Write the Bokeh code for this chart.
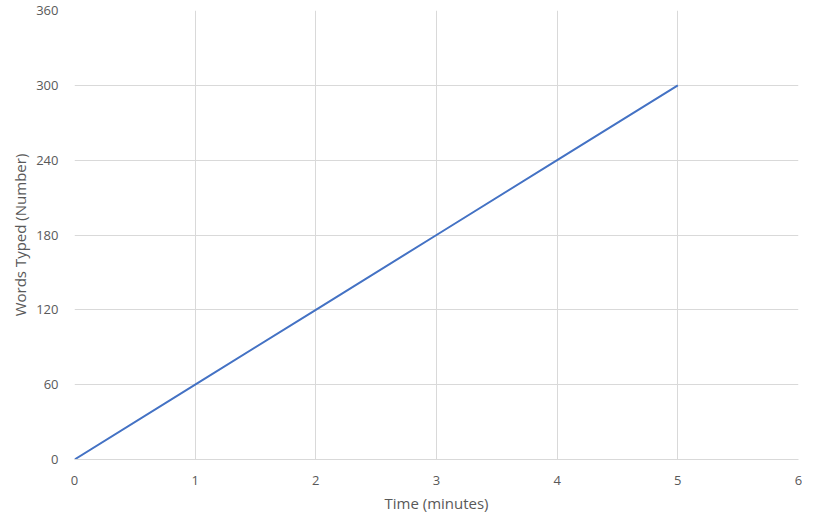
from bokeh.plotting import figure
from bokeh.models import Range1d, FixedTicker
from bokeh.embed import file_html
from bokeh.resources import INLINE

time_minutes = [0, 1, 2, 3, 4, 5]
words_typed = [0, 60, 120, 180, 240, 300]
x_ticks = [0, 1, 2, 3, 4, 5, 6]
y_ticks = [0, 60, 120, 180, 240, 300, 360]

p = figure(width=802, height=516, output_backend="svg", toolbar_location=None,
           x_range=Range1d(0, 6), y_range=Range1d(0, 360),
           min_border_left=74, min_border_right=4, min_border_top=10, min_border_bottom=57)
p.outline_line_color = None
p.background_fill_color = "white"
p.border_fill_color = "white"

p.line(time_minutes, words_typed, line_color="#4472C4", line_width=2)

for ax in (p.xaxis, p.yaxis):
    ax.axis_line_color = "#d9d9d9"
    ax.major_tick_line_color = None
    ax.minor_tick_line_color = None
    ax.major_label_text_color = "#595959"
    ax.major_label_text_font = "Open Sans"
    ax.major_label_text_font_size = "13px"
    ax.axis_label_text_color = "#595959"
    ax.axis_label_text_font = "Open Sans"
    ax.axis_label_text_font_size = "15px"
    ax.axis_label_text_font_style = "normal"
    ax.major_label_standoff = 10

p.xaxis.ticker = FixedTicker(ticks=x_ticks)
p.yaxis.ticker = FixedTicker(ticks=y_ticks)
p.yaxis.axis_line_color = None
p.xaxis.axis_label = "Time (minutes)"
p.yaxis.axis_label = "Words Typed (Number)"
p.xaxis.axis_label_standoff = 5
p.yaxis.axis_label_standoff = 3

p.xgrid.ticker = FixedTicker(ticks=x_ticks)
p.ygrid.ticker = FixedTicker(ticks=y_ticks)
p.grid.grid_line_color = "#d9d9d9"
p.grid.grid_line_width = 1

open("out.html", "w").write(file_html(p, INLINE))
